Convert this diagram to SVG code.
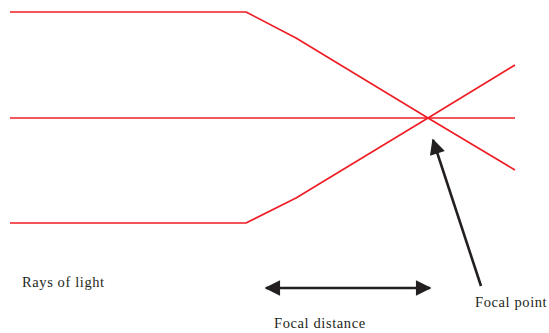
<svg xmlns="http://www.w3.org/2000/svg" width="549" height="333" viewBox="0 0 549 333">
<style>
.ray{fill:none;stroke:#ee1c24;stroke-width:1.6;stroke-linejoin:round}
.arr{fill:none;stroke:#231f20;stroke-width:2.6}
.lbl{font-family:"Liberation Serif",serif;font-size:14.5px;letter-spacing:0.6px;fill:#231f20}
</style>
<defs>
<marker id="ah" viewBox="0 0 10 10" refX="9" refY="5" markerWidth="6.5" markerHeight="6" markerUnits="strokeWidth" orient="auto-start-reverse">
<path d="M0,0 L10,5 L0,10 Z" fill="#231f20"/>
</marker>
</defs>
<g id="connectors">
<polyline class="ray" points="10,12 246,12 296,38 428,118 515,170"/>
<line class="ray" x1="10" y1="118" x2="515" y2="118"/>
<polyline class="ray" points="10,223 246,223 296,198 428,118 515,65"/>
<line class="arr" x1="266" y1="288" x2="430" y2="288" marker-start="url(#ah)" marker-end="url(#ah)"/>
<line class="arr" x1="481" y1="286" x2="433" y2="140" marker-end="url(#ah)"/>
</g>
<g id="rays-label"><text class="lbl" x="22" y="287">Rays of light</text></g>
<g id="focal-distance-label"><text class="lbl" x="274" y="328">Focal distance</text></g>
<g id="focal-point-label"><text class="lbl" x="475" y="307">Focal point</text></g>
</svg>
